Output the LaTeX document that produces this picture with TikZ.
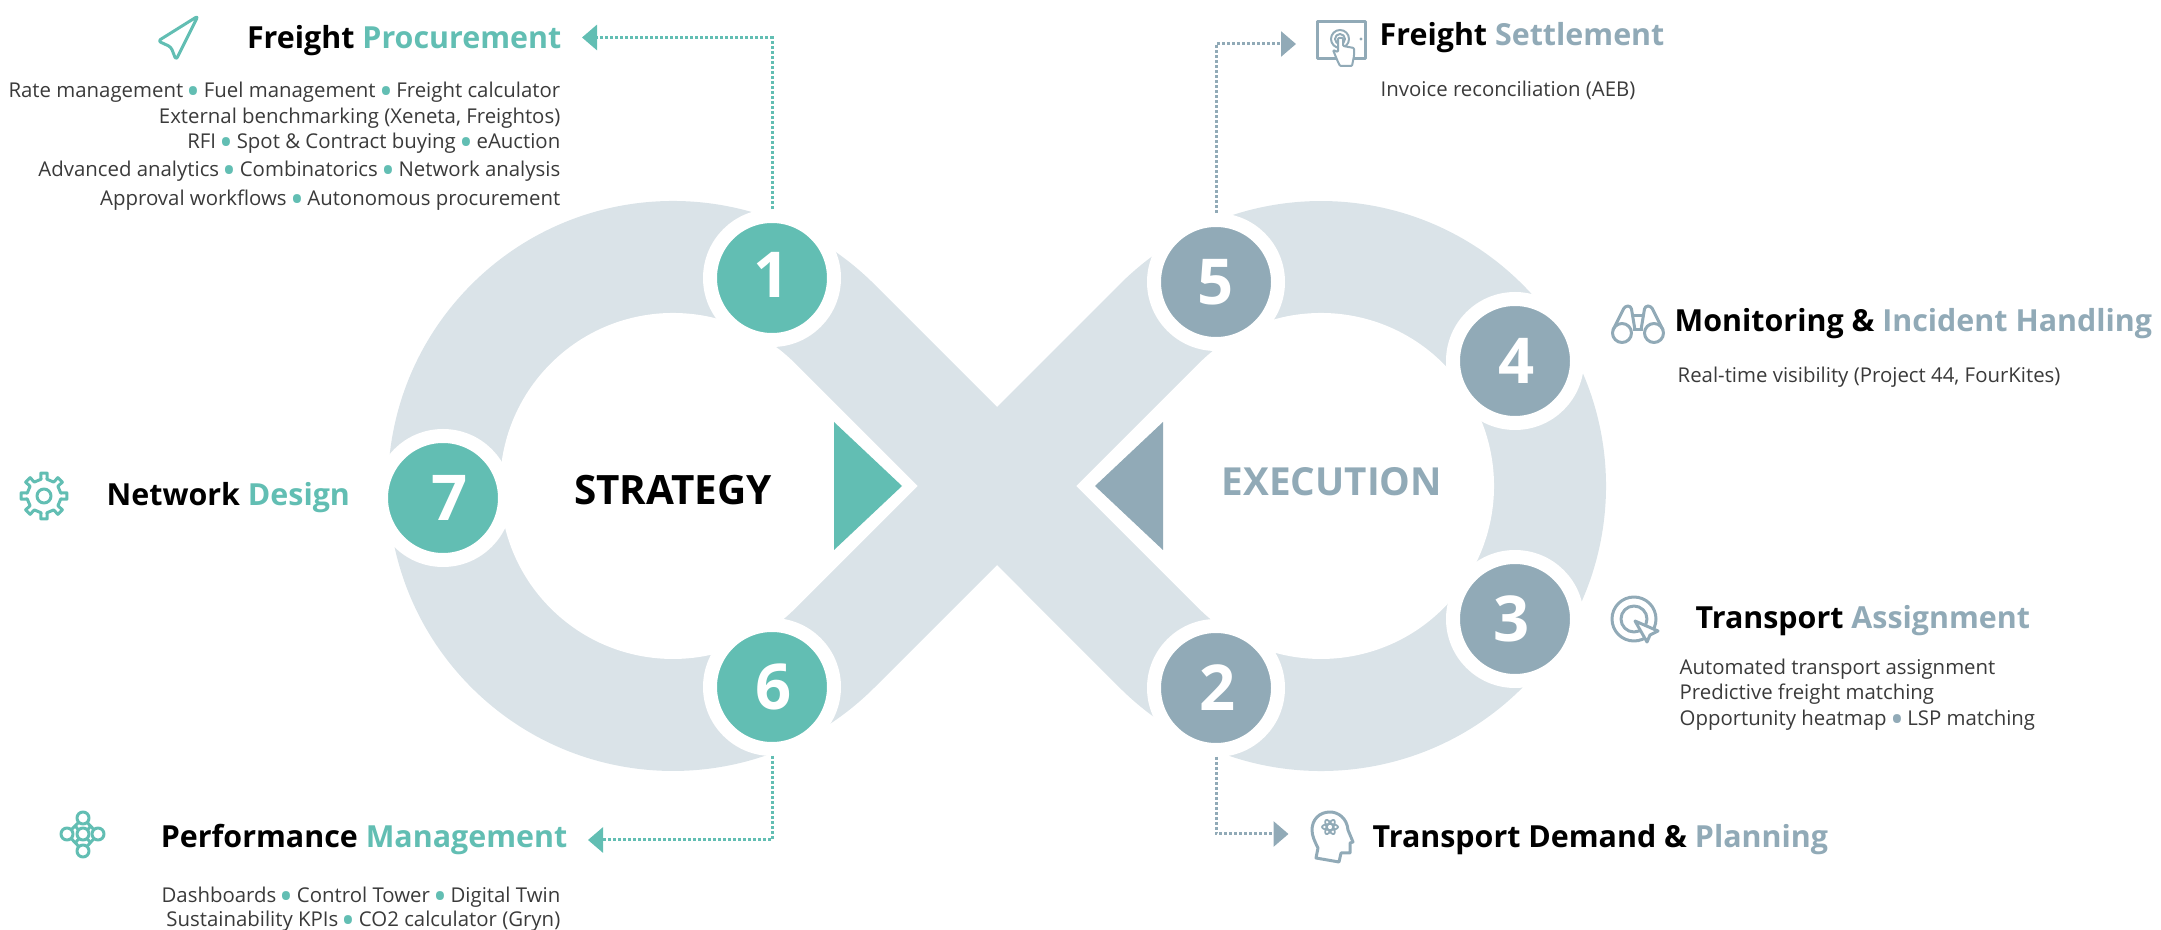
\documentclass[tikz,border=0pt]{standalone}
\usepackage{fontspec}
\setmainfont{Open Sans}
\usetikzlibrary{arrows.meta}
\definecolor{green1}{HTML}{62BEB3}
\definecolor{blue1}{HTML}{91AAB7}
\definecolor{band1}{HTML}{DAE3E8}
\definecolor{text1}{HTML}{3A3A3A}
\newcommand{\gdot}{\,\smash{\raisebox{-2.1pt}{\fontsize{10.5}{10.5}\selectfont\textcolor{green1}{\textbullet}}}\,}
\newcommand{\bdot}{\,\smash{\raisebox{-2.1pt}{\fontsize{10.5}{10.5}\selectfont\textcolor{blue1}{\textbullet}}}\,}
\begin{document}
\begin{tikzpicture}
    \useasboundingbox (0,0) rectangle (21.61,-9.30);
    \tikzstyle{numgreen}=[circle,minimum size=1.24cm,inner sep=0pt,draw=white,line width=0.14cm,fill=green1,text=white,font=\fontsize{18}{20}\selectfont\bfseries]
    \tikzstyle{numblue}=[numgreen,fill=blue1]
    \tikzstyle{titlenode}=[inner sep=0pt,font=\fontsize{8.65}{10}\selectfont\bfseries]
    \tikzstyle{bodynode}=[inner sep=0pt,text=text1,font=\fontsize{5.8}{6.9}\selectfont]
    \tikzstyle{linkgreen}=[-{Triangle[width=0.25cm,length=0.15cm]},green1,line width=0.03cm,dash pattern=on 0.03cm off 0.02cm]
    \tikzstyle{linkblue}=[linkgreen,blue1]
    \tikzstyle{icongreen}=[green1,line width=0.03cm,line join=round]
    \tikzstyle{iconblue}=[blue1,line width=0.03cm,line join=round]

    % the band
    \fill[band1] (8.745,-2.845) -- (9.97,-4.07) -- (11.195,-2.845) arc[start angle=135,end angle=-135,radius=2.85]
        -- (9.97,-5.65) -- (8.745,-6.875) arc[start angle=-45,end angle=-315,radius=2.85] -- cycle;
    \fill[white] (7.953,-3.637) -- (9.176,-4.86) -- (7.953,-6.083) arc[start angle=-45,end angle=-315,radius=1.73] -- cycle;
    \fill[white] (11.987,-3.637) -- (10.764,-4.86) -- (11.987,-6.083) arc[start angle=-135,end angle=135,radius=1.73] -- cycle;
    \fill[green1] (8.34,-4.22) -- (9.02,-4.86) -- (8.34,-5.50) -- cycle;
    \fill[blue1] (11.63,-4.22) -- (10.95,-4.86) -- (11.63,-5.50) -- cycle;

    \node[font=\fontsize{11.5}{13}\selectfont\bfseries,inner sep=0pt] (STR) at (6.73,-4.90) {STRATEGY};
    \node[font=\fontsize{11}{13}\selectfont\bfseries,text=blue1,inner sep=0pt] (EXE) at (13.32,-4.82) {EXECUTION};

    \node[numgreen] (N1) at (7.72,-2.78) {\raisebox{0.066cm}{1}};
    \node[numblue] (N2) at (12.16,-6.88) {\kern0.04cm 2};
    \node[numblue] (N3) at (15.15,-6.19) {3\kern0.07cm};
    \node[numblue] (N4) at (15.15,-3.61) {\kern0.03cm 4};
    \node[numblue] (N5) at (12.16,-2.82) {5};
    \node[numgreen] (N6) at (7.72,-6.87) {\kern0.04cm 6};
    \node[numgreen] (N7) at (4.43,-4.98) {\kern0.14cm 7};

    % titles
    \node[titlenode,anchor=base east] (T1) at (5.62,-0.49) {Freight \textcolor{green1}{Procurement}};
    \node[titlenode,anchor=base west] (T5) at (13.79,-0.46) {Freight \textcolor{blue1}{Settlement}};
    \node[titlenode,anchor=base west] (T4) at (16.74,-3.32) {Monitoring \& \textcolor{blue1}{Incident Handling}};
    \node[titlenode,anchor=base west] (T3) at (16.95,-6.29) {Transport \textcolor{blue1}{Assignment}};
    \node[titlenode,anchor=base west] (T2) at (13.72,-8.48) {Transport Demand \& \textcolor{blue1}{Planning}};
    \node[titlenode,anchor=base east] (T6) at (5.68,-8.48) {Performance \textcolor{green1}{Management}};
    \node[titlenode,anchor=base west] (T7) at (1.06,-5.06) {Network \textcolor{green1}{Design}};

    % texts
    \node[bodynode,anchor=north east,align=right] (B1) at (5.61,-0.81) {Rate management\gdot Fuel management\gdot Freight calculator\\[0.7pt]
        External benchmarking (Xeneta, Freightos)\\
        RFI\gdot Spot \& Contract buying\gdot eAuction\\[1.1pt]
        Advanced analytics\gdot Combinatorics\gdot Network analysis\\[1.35pt]
        Approval workflows\gdot Autonomous procurement};
    \node[bodynode,anchor=base west] (B5) at (13.80,-0.97) {Invoice reconciliation (AEB)};
    \node[bodynode,anchor=base west] (B4) at (16.77,-3.83) {Real-time visibility (Project 44, FourKites)};
    \node[bodynode,anchor=north west,align=left] (B3) at (16.79,-6.58) {Automated transport assignment\\[0.2pt]
        Predictive freight matching\\[0.5pt]
        Opportunity heatmap\bdot LSP matching};
    \node[bodynode,anchor=north east,align=right] (B6) at (5.61,-8.86) {Dashboards\gdot Control Tower\gdot Digital Twin\\
        Sustainability KPIs\gdot CO2 calculator (Gryn)};

    % links
    \coordinate (E1) at (5.82,-0.375);
    \coordinate (E5) at (12.96,-0.44);
    \coordinate (E2) at (12.885,-8.34);
    \coordinate (E6) at (5.88,-8.40);
    \draw[linkgreen] (N1.north) |- (E1);
    \draw[linkblue] (N5.north) |- (E5);
    \draw[linkblue] (N2.south) |- (E2);
    \draw[linkgreen] (N6.south) |- (E6);

    % icons
    \draw[icongreen,rounded corners=0.03cm] (1.98,-0.16) -- (1.58,-0.41) -- (1.71,-0.47) -- (1.76,-0.60) -- cycle;
    \draw[icongreen,shift={(0.44,-4.96)}] (-10:0.17)
        \foreach \a in {0,45,...,315} {
            -- (\a-10:0.17) -- (\a-8:0.23) -- (\a+8:0.23) -- (\a+10:0.17)
        } -- cycle;
    \draw[icongreen] (0.44,-4.96) circle (0.07);
    \draw[icongreen] (0.67,-8.34) -- (0.83,-8.18) -- (0.98,-8.34) -- (0.83,-8.51) -- cycle;
    \draw[icongreen] (0.75,-8.26) -- (0.91,-8.43) (0.91,-8.26) -- (0.75,-8.43);
    \foreach \p in {(0.83,-8.18),(0.67,-8.34),(0.83,-8.34),(0.98,-8.34),(0.83,-8.51)}
        \draw[icongreen,fill=white] \p circle (0.06);
    % tablet
    \draw[iconblue] (13.17,-0.22) rectangle (13.65,-0.59);
    \fill[blue1] (13.61,-0.39) circle (0.017);
    \draw[iconblue,line width=0.02cm] (13.40,-0.39) circle (0.09) (13.40,-0.39) circle (0.05);
    \draw[iconblue,line width=0.02cm,fill=white,rounded corners=0.01cm] (13.38,-0.38) -- (13.38,-0.52) -- (13.33,-0.50) -- (13.38,-0.62) -- (13.40,-0.66) -- (13.52,-0.66) -- (13.54,-0.56) -- (13.54,-0.48) -- (13.43,-0.46) -- (13.43,-0.38) -- cycle;
    % binoculars
    \draw[iconblue] (16.22,-3.33) circle (0.095) (16.54,-3.33) circle (0.095);
    \draw[iconblue,rounded corners=0.03cm] (16.13,-3.30) -- (16.25,-3.06) -- (16.31,-3.06) -- (16.35,-3.30);
    \draw[iconblue,rounded corners=0.03cm] (16.63,-3.30) -- (16.51,-3.06) -- (16.45,-3.06) -- (16.41,-3.30);
    \draw[iconblue] (16.32,-3.16) -- (16.44,-3.16) (16.33,-3.30) -- (16.43,-3.30);
    % target
    \draw[iconblue] (16.34,-6.19) circle (0.22) (16.34,-6.19) circle (0.13);
    \draw[iconblue,fill=white] (16.35,-6.21) -- (16.58,-6.31) -- (16.50,-6.35) -- (16.47,-6.42) -- cycle;
    % head
    \draw[iconblue] (13.16,-8.58) -- (13.39,-8.62) -- (13.41,-8.53) -- (13.50,-8.53) -- (13.50,-8.43) -- (13.53,-8.42) -- (13.48,-8.30)
        .. controls (13.47,-8.18) and (13.38,-8.12) .. (13.30,-8.12) .. controls (13.19,-8.12) and (13.12,-8.20) .. (13.12,-8.30) .. controls (13.12,-8.36) and (13.15,-8.42) .. (13.18,-8.48) -- cycle;
    \foreach \a in {0,60,120}
        \draw[iconblue,line width=0.018cm,rotate around={\a:(13.30,-8.27)}] (13.30,-8.27) ellipse (0.08 and 0.03);
\end{tikzpicture}
\end{document}
